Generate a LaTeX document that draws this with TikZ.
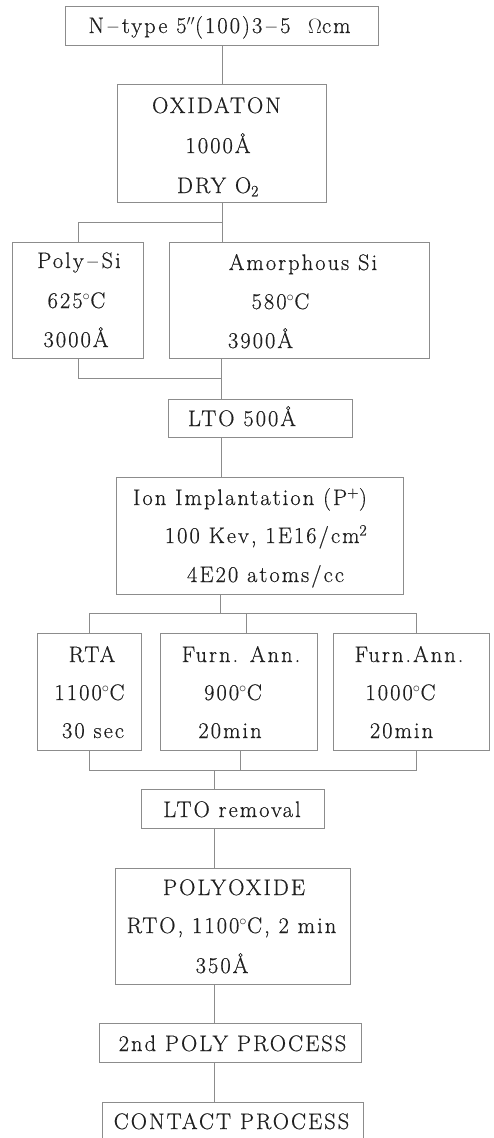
\documentclass[tikz,border=0pt]{standalone}
\usepackage{fontspec}
\setmainfont{Latin Modern Roman}[LetterSpace=9, FakeBold=0.5]
\definecolor{ln}{gray}{0.55}
\definecolor{tx}{gray}{0.12}
\begin{document}
\begin{tikzpicture}[x=1pt,y=-1pt,
  box/.style={draw=ln, line width=0.8pt, inner sep=0pt, outer sep=0pt},
  txt/.style={anchor=base, inner sep=0pt, text=tx, font=\fontsize{22.5}{27}\selectfont},
  conn/.style={draw=ln, line width=0.8pt}]
\useasboundingbox (0,0) rectangle (493,1138);
% boxes
\node[box, minimum width=313pt, minimum height=39pt] (b1) at (221.5,25.5) {};
\node[box, minimum width=209pt, minimum height=118pt] (b2) at (221.5,143) {};
\node[box, minimum width=131pt, minimum height=116pt] (b3) at (77.5,300) {};
\node[box, minimum width=260pt, minimum height=116pt] (b4) at (299,300) {};
\node[box, minimum width=184pt, minimum height=38pt] (b5) at (260,418) {};
\node[box, minimum width=287pt, minimum height=117pt] (b6) at (259.5,535.5) {};
\node[box, minimum width=104pt, minimum height=117pt] (b7) at (89,691.5) {};
\node[box, minimum width=157pt, minimum height=117pt] (b8) at (238.5,691.5) {};
\node[box, minimum width=156pt, minimum height=117pt] (b9) at (411,691.5) {};
\node[box, minimum width=183pt, minimum height=39pt] (b10) at (232.5,808.5) {};
\node[box, minimum width=235pt, minimum height=116pt] (b11) at (232.5,926) {};
\node[box, minimum width=262pt, minimum height=39pt] (b12) at (230,1042.5) {};
\node[box, minimum width=261pt, minimum height=39pt] (b13) at (232.5,1121.5) {};
% texts
\node[txt] (t1) at (219.5,33) {N\,--\,type 5$''$(100)3\,--\,5 \ $\Omega$cm};
\node[txt] (t2a) at (216.5,113) {OXIDATON};
\node[txt] (t2b) at (218,153) {1000Å};
\node[txt] (t2c) at (218,193) {DRY O\textsubscript{2}};
\node[txt] (t3a) at (79,268) {Poly\,--\,Si};
\node[txt] (t3b) at (76.5,308) {625$^{\circ}$C};
\node[txt] (t3c) at (76,347) {3000Å};
\node[txt] (t4a) at (303,270) {Amorphous Si};
\node[txt] (t4b) at (280.5,309) {580$^{\circ}$C};
\node[txt] (t4c) at (260.5,348) {3900Å};
\node[txt] (t5) at (242,426) {LTO 500Å};
\node[txt] (t6a) at (250,505) {Ion Implantation (P\textsuperscript{+})};
\node[txt] (t6b) at (266,543) {100 Kev, 1E16/cm\textsuperscript{2}};
\node[txt] (t6c) at (265.5,582) {4E20 atoms/cc};
\node[txt] (t7a) at (92,662) {RTA};
\node[txt] (t7b) at (89.5,700) {1100$^{\circ}$C};
\node[txt] (t7c) at (93,738) {30 sec};
\node[txt] (t8a) at (241,662) {Furn. Ann.};
\node[txt] (t8b) at (233,700) {900$^{\circ}$C};
\node[txt] (t8c) at (230,738) {20min};
\node[txt] (t9a) at (409,662) {Furn.Ann.};
\node[txt] (t9b) at (400.5,700) {1000$^{\circ}$C};
\node[txt] (t9c) at (401.5,738) {20min};
\node[txt] (t10) at (232,817) {LTO removal};
\node[txt] (t11a) at (234,895) {POLYOXIDE};
\node[txt] (t11b) at (231.5,933) {RTO, 1100$^{\circ}$C, 2 min};
\node[txt] (t11c) at (222,973) {350Å};
\node[txt] (t12) at (232.5,1051) {2nd POLY PROCESS};
\node[txt] (t13) at (231.5,1129) {CONTACT PROCESS};
% junctions
\coordinate (j1) at (222,222);
\coordinate (j1l) at (78,222);
\coordinate (j2) at (221,378);
\coordinate (j2l) at (78,378);
\coordinate (j3) at (220,613);
\coordinate (j3l) at (89,613);
\coordinate (j3m) at (246,613);
\coordinate (j3r) at (416,613);
\coordinate (j4) at (214,770);
\coordinate (j4l) at (89,770);
\coordinate (j4m) at (240,770);
\coordinate (j4r) at (416,770);
% connectors
\draw[conn] (b1.south -| j1) -- (b2.north -| j1);
\draw[conn] (b2.south -| j1) -- (b4.north -| j1);
\draw[conn] (j1) -- (j1l) -- (b3.north -| j1l);
\draw[conn] (b3.south -| j2l) -- (j2l) -- (j2);
\draw[conn] (b4.south -| j2) -- (b5.north -| j2);
\draw[conn] (b5.south -| j2) -- (b6.north -| j2);
\draw[conn] (b6.south -| j3) -- (j3);
\draw[conn] (b7.north -| j3l) -- (j3l) -- (j3r) -- (b9.north -| j3r);
\draw[conn] (j3m) -- (b8.north -| j3m);
\draw[conn] (b7.south -| j4l) -- (j4l) -- (j4r) -- (b9.south -| j4r);
\draw[conn] (b8.south -| j4m) -- (j4m);
\draw[conn] (j4) -- (b10.north -| j4);
\draw[conn] (b10.south -| j4) -- (b11.north -| j4);
\draw[conn] (b11.south -| j4) -- (b12.north -| j4);
\draw[conn] (b12.south -| j4) -- (b13.north -| j4);
\end{tikzpicture}
\end{document}
